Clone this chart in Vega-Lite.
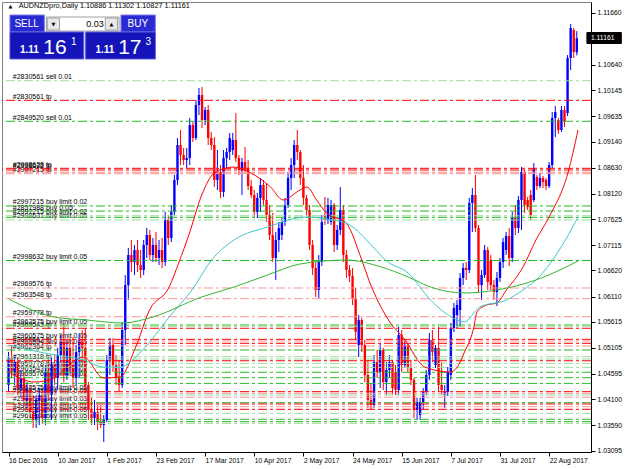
{
"$schema":"https://vega.github.io/schema/vega-lite/v6.json",
"width":589,"height":450,
"autosize":{"type":"none"},
"padding":{"left":2,"top":2,"right":34,"bottom":17},
"background":"#ffffff",
"config":{"font":"Liberation Sans","view":{"stroke":"#808080","strokeWidth":1},"axis":{"labelFont":"Liberation Sans","labelColor":"#000000","tickColor":"#000000","domainColor":"#000000","grid":false}},
"resolve":{"scale":{"color":"independent","fill":"independent","stroke":"independent"}},
"datasets":{
"bars":[
{"i":0,"o":1.04379,"h":1.05025,"l":1.04243,"c":1.04908},
{"i":1,"o":1.04908,"h":1.05162,"l":1.04517,"c":1.04634},
{"i":2,"o":1.04634,"h":1.04966,"l":1.04379,"c":1.04829},
{"i":3,"o":1.04829,"h":1.04908,"l":1.04184,"c":1.04321},
{"i":4,"o":1.04321,"h":1.04673,"l":1.04126,"c":1.04517},
{"i":5,"o":1.04517,"h":1.04634,"l":1.03988,"c":1.04086},
{"i":6,"o":1.04086,"h":1.04438,"l":1.0393,"c":1.04282},
{"i":7,"o":1.04282,"h":1.04379,"l":1.03734,"c":1.03851},
{"i":8,"o":1.03851,"h":1.04184,"l":1.03539,"c":1.03695},
{"i":9,"o":1.03695,"h":1.04184,"l":1.03539,"c":1.04086},
{"i":10,"o":1.04086,"h":1.04321,"l":1.03597,"c":1.04184},
{"i":11,"o":1.04184,"h":1.04282,"l":1.03617,"c":1.03734},
{"i":12,"o":1.03734,"h":1.0477,"l":1.03597,"c":1.04634},
{"i":13,"o":1.04634,"h":1.04868,"l":1.04086,"c":1.04184},
{"i":14,"o":1.04184,"h":1.04908,"l":1.03695,"c":1.0477},
{"i":15,"o":1.0477,"h":1.04966,"l":1.04379,"c":1.04517},
{"i":16,"o":1.04517,"h":1.05104,"l":1.04282,"c":1.04966},
{"i":17,"o":1.04966,"h":1.05357,"l":1.04829,"c":1.05221},
{"i":18,"o":1.05221,"h":1.05592,"l":1.04438,"c":1.04575},
{"i":19,"o":1.04575,"h":1.0526,"l":1.04477,"c":1.05104},
{"i":20,"o":1.05104,"h":1.05299,"l":1.04634,"c":1.0477},
{"i":21,"o":1.0477,"h":1.05318,"l":1.04321,"c":1.04517},
{"i":22,"o":1.04517,"h":1.05162,"l":1.04379,"c":1.05025},
{"i":23,"o":1.05025,"h":1.05396,"l":1.04517,"c":1.0526},
{"i":24,"o":1.0526,"h":1.05455,"l":1.0477,"c":1.05104},
{"i":25,"o":1.05104,"h":1.05495,"l":1.04243,"c":1.04379},
{"i":26,"o":1.04379,"h":1.04438,"l":1.03695,"c":1.0389},
{"i":27,"o":1.0389,"h":1.04126,"l":1.03597,"c":1.03734},
{"i":28,"o":1.03734,"h":1.04086,"l":1.03597,"c":1.03851},
{"i":29,"o":1.03851,"h":1.03988,"l":1.03499,"c":1.03656},
{"i":30,"o":1.03656,"h":1.03988,"l":1.03539,"c":1.03597},
{"i":31,"o":1.03597,"h":1.03792,"l":1.03265,"c":1.03695},
{"i":32,"o":1.03695,"h":1.04966,"l":1.03656,"c":1.04868},
{"i":33,"o":1.04868,"h":1.05299,"l":1.04575,"c":1.05162},
{"i":34,"o":1.05162,"h":1.05299,"l":1.04634,"c":1.0477},
{"i":35,"o":1.0477,"h":1.04966,"l":1.04379,"c":1.04517},
{"i":36,"o":1.04517,"h":1.04868,"l":1.04243,"c":1.04379},
{"i":37,"o":1.04379,"h":1.05612,"l":1.04321,"c":1.05455},
{"i":38,"o":1.05455,"h":1.06531,"l":1.05162,"c":1.06335},
{"i":39,"o":1.06335,"h":1.0706,"l":1.06042,"c":1.06922},
{"i":40,"o":1.06922,"h":1.07216,"l":1.0659,"c":1.06785},
{"i":41,"o":1.06785,"h":1.07118,"l":1.06531,"c":1.0702},
{"i":42,"o":1.0702,"h":1.07216,"l":1.0659,"c":1.06726},
{"i":43,"o":1.06726,"h":1.0702,"l":1.06473,"c":1.06629},
{"i":44,"o":1.06629,"h":1.07216,"l":1.06531,"c":1.07118},
{"i":45,"o":1.07118,"h":1.07451,"l":1.06864,"c":1.07313},
{"i":46,"o":1.07313,"h":1.07411,"l":1.06824,"c":1.06922},
{"i":47,"o":1.06922,"h":1.07255,"l":1.06785,"c":1.07118},
{"i":48,"o":1.07118,"h":1.07372,"l":1.06785,"c":1.06864},
{"i":49,"o":1.06864,"h":1.07216,"l":1.06726,"c":1.0702},
{"i":50,"o":1.0702,"h":1.07255,"l":1.06668,"c":1.06785},
{"i":51,"o":1.06785,"h":1.07763,"l":1.06707,"c":1.07607},
{"i":52,"o":1.07607,"h":1.07704,"l":1.07118,"c":1.07255},
{"i":53,"o":1.07255,"h":1.079,"l":1.07177,"c":1.07763},
{"i":54,"o":1.07763,"h":1.08487,"l":1.07704,"c":1.08389},
{"i":55,"o":1.08389,"h":1.09211,"l":1.08291,"c":1.09074},
{"i":56,"o":1.09074,"h":1.09367,"l":1.08682,"c":1.08878},
{"i":57,"o":1.08878,"h":1.09016,"l":1.08682,"c":1.0878},
{"i":58,"o":1.0878,"h":1.09016,"l":1.08624,"c":1.0882},
{"i":59,"o":1.0882,"h":1.09602,"l":1.08682,"c":1.09465},
{"i":60,"o":1.09465,"h":1.09524,"l":1.09133,"c":1.09211},
{"i":61,"o":1.09211,"h":1.09954,"l":1.09172,"c":1.09856},
{"i":62,"o":1.09856,"h":1.10189,"l":1.0966,"c":1.10052},
{"i":63,"o":1.10052,"h":1.10208,"l":1.09407,"c":1.09563},
{"i":64,"o":1.09563,"h":1.09817,"l":1.09465,"c":1.09758},
{"i":65,"o":1.09758,"h":1.09856,"l":1.09074,"c":1.09211},
{"i":66,"o":1.09211,"h":1.09328,"l":1.08976,"c":1.09074},
{"i":67,"o":1.09074,"h":1.0923,"l":1.08252,"c":1.08389},
{"i":68,"o":1.08389,"h":1.08976,"l":1.08194,"c":1.08546},
{"i":69,"o":1.08546,"h":1.08682,"l":1.08038,"c":1.08155},
{"i":70,"o":1.08155,"h":1.08976,"l":1.08057,"c":1.0882},
{"i":71,"o":1.0882,"h":1.09016,"l":1.08624,"c":1.08937},
{"i":72,"o":1.08937,"h":1.09308,"l":1.0878,"c":1.09211},
{"i":73,"o":1.08976,"h":1.09308,"l":1.08878,"c":1.09172},
{"i":74,"o":1.09172,"h":1.09699,"l":1.08741,"c":1.0882},
{"i":75,"o":1.0882,"h":1.08878,"l":1.08487,"c":1.08585},
{"i":76,"o":1.08585,"h":1.0882,"l":1.08096,"c":1.08741},
{"i":77,"o":1.08741,"h":1.09035,"l":1.08546,"c":1.08624},
{"i":78,"o":1.08624,"h":1.0878,"l":1.08194,"c":1.08272},
{"i":79,"o":1.08272,"h":1.08389,"l":1.08038,"c":1.08096},
{"i":80,"o":1.08096,"h":1.08194,"l":1.07646,"c":1.07763},
{"i":81,"o":1.07763,"h":1.08135,"l":1.07646,"c":1.08038},
{"i":82,"o":1.08038,"h":1.08429,"l":1.07763,"c":1.08291},
{"i":83,"o":1.08291,"h":1.08389,"l":1.079,"c":1.07998},
{"i":84,"o":1.07998,"h":1.0833,"l":1.07568,"c":1.07704},
{"i":85,"o":1.07704,"h":1.079,"l":1.07216,"c":1.07313},
{"i":86,"o":1.07313,"h":1.07743,"l":1.06785,"c":1.06864},
{"i":87,"o":1.06864,"h":1.07372,"l":1.06433,"c":1.07216},
{"i":88,"o":1.07216,"h":1.07568,"l":1.06981,"c":1.07451},
{"i":89,"o":1.07313,"h":1.07646,"l":1.07216,"c":1.07568},
{"i":90,"o":1.07568,"h":1.08038,"l":1.0749,"c":1.079},
{"i":91,"o":1.079,"h":1.08546,"l":1.07842,"c":1.08429},
{"i":92,"o":1.08429,"h":1.0882,"l":1.08194,"c":1.08682},
{"i":93,"o":1.08682,"h":1.09172,"l":1.08429,"c":1.09074},
{"i":94,"o":1.09074,"h":1.09367,"l":1.0878,"c":1.08937},
{"i":95,"o":1.08937,"h":1.08976,"l":1.08291,"c":1.08429},
{"i":96,"o":1.08429,"h":1.08682,"l":1.079,"c":1.08038},
{"i":97,"o":1.08038,"h":1.08096,"l":1.07704,"c":1.07802},
{"i":98,"o":1.07802,"h":1.079,"l":1.0702,"c":1.07118},
{"i":99,"o":1.07118,"h":1.07216,"l":1.06531,"c":1.06668},
{"i":100,"o":1.06668,"h":1.06785,"l":1.06101,"c":1.06238},
{"i":101,"o":1.06238,"h":1.06922,"l":1.06082,"c":1.06785},
{"i":102,"o":1.06785,"h":1.07704,"l":1.06707,"c":1.07568},
{"i":103,"o":1.07704,"h":1.08057,"l":1.07509,"c":1.07607},
{"i":104,"o":1.07607,"h":1.08038,"l":1.07529,"c":1.079},
{"i":105,"o":1.07568,"h":1.07998,"l":1.07509,"c":1.079},
{"i":106,"o":1.079,"h":1.07939,"l":1.06981,"c":1.07118},
{"i":107,"o":1.07118,"h":1.07509,"l":1.0702,"c":1.07411},
{"i":108,"o":1.07411,"h":1.08252,"l":1.07313,"c":1.07802},
{"i":109,"o":1.07802,"h":1.079,"l":1.06785,"c":1.06922},
{"i":110,"o":1.06922,"h":1.0702,"l":1.06473,"c":1.06629},
{"i":111,"o":1.06629,"h":1.06726,"l":1.06394,"c":1.06512},
{"i":112,"o":1.06512,"h":1.06668,"l":1.05944,"c":1.06082},
{"i":113,"o":1.06082,"h":1.06277,"l":1.0526,"c":1.05416},
{"i":114,"o":1.05162,"h":1.05748,"l":1.04927,"c":1.05651},
{"i":115,"o":1.05651,"h":1.0569,"l":1.05025,"c":1.05162},
{"i":116,"o":1.05162,"h":1.0526,"l":1.04438,"c":1.04575},
{"i":117,"o":1.04575,"h":1.04868,"l":1.0393,"c":1.04086},
{"i":118,"o":1.04086,"h":1.04418,"l":1.0389,"c":1.03988},
{"i":119,"o":1.03988,"h":1.04966,"l":1.0393,"c":1.04829},
{"i":120,"o":1.04829,"h":1.05064,"l":1.04517,"c":1.04634},
{"i":121,"o":1.04634,"h":1.05201,"l":1.04321,"c":1.05064},
{"i":122,"o":1.05064,"h":1.05104,"l":1.04282,"c":1.04438},
{"i":123,"o":1.04438,"h":1.04829,"l":1.04184,"c":1.04673},
{"i":124,"o":1.04673,"h":1.04966,"l":1.04517,"c":1.04829},
{"i":125,"o":1.04829,"h":1.04868,"l":1.04184,"c":1.04321},
{"i":126,"o":1.04634,"h":1.0477,"l":1.04184,"c":1.04282},
{"i":127,"o":1.04282,"h":1.05514,"l":1.04184,"c":1.05357},
{"i":128,"o":1.05357,"h":1.05455,"l":1.04634,"c":1.0477},
{"i":129,"o":1.0477,"h":1.0526,"l":1.04712,"c":1.05162},
{"i":130,"o":1.05162,"h":1.05201,"l":1.04634,"c":1.04712},
{"i":131,"o":1.04712,"h":1.04868,"l":1.04379,"c":1.04477},
{"i":132,"o":1.04477,"h":1.04517,"l":1.03734,"c":1.0389},
{"i":133,"o":1.0389,"h":1.04126,"l":1.03695,"c":1.04047},
{"i":134,"o":1.03792,"h":1.04126,"l":1.03695,"c":1.04047},
{"i":135,"o":1.04047,"h":1.04321,"l":1.0389,"c":1.04243},
{"i":136,"o":1.04243,"h":1.04673,"l":1.04184,"c":1.04575},
{"i":137,"o":1.04575,"h":1.05396,"l":1.04477,"c":1.0526},
{"i":138,"o":1.0526,"h":1.05455,"l":1.04829,"c":1.05025},
{"i":139,"o":1.0477,"h":1.05162,"l":1.04712,"c":1.05104},
{"i":140,"o":1.05104,"h":1.05514,"l":1.04243,"c":1.04379},
{"i":141,"o":1.04379,"h":1.04829,"l":1.04184,"c":1.04282},
{"i":142,"o":1.04184,"h":1.04379,"l":1.0393,"c":1.04243},
{"i":143,"o":1.04243,"h":1.04731,"l":1.04165,"c":1.04634},
{"i":144,"o":1.04575,"h":1.05592,"l":1.04477,"c":1.05495},
{"i":145,"o":1.05495,"h":1.05983,"l":1.05416,"c":1.05886},
{"i":146,"o":1.05748,"h":1.06042,"l":1.05495,"c":1.05944},
{"i":147,"o":1.05846,"h":1.0657,"l":1.05514,"c":1.06473},
{"i":148,"o":1.06473,"h":1.06765,"l":1.06335,"c":1.06668},
{"i":149,"o":1.06668,"h":1.06785,"l":1.06433,"c":1.06629},
{"i":150,"o":1.06629,"h":1.08038,"l":1.0657,"c":1.07939},
{"i":151,"o":1.07939,"h":1.08233,"l":1.07372,"c":1.08096},
{"i":152,"o":1.08096,"h":1.08487,"l":1.07372,"c":1.07451},
{"i":153,"o":1.07451,"h":1.07509,"l":1.06199,"c":1.06335},
{"i":154,"o":1.06335,"h":1.06629,"l":1.06042,"c":1.06531},
{"i":155,"o":1.06531,"h":1.07118,"l":1.06473,"c":1.0702},
{"i":156,"o":1.0702,"h":1.07079,"l":1.06238,"c":1.06394},
{"i":157,"o":1.06824,"h":1.06922,"l":1.06238,"c":1.06335},
{"i":158,"o":1.06335,"h":1.06433,"l":1.06042,"c":1.06199},
{"i":159,"o":1.06199,"h":1.0659,"l":1.05925,"c":1.06473},
{"i":160,"o":1.06473,"h":1.06864,"l":1.06394,"c":1.06785},
{"i":161,"o":1.06785,"h":1.07255,"l":1.06668,"c":1.07177},
{"i":162,"o":1.0702,"h":1.07372,"l":1.06922,"c":1.07294},
{"i":163,"o":1.07294,"h":1.07451,"l":1.06707,"c":1.06864},
{"i":164,"o":1.06864,"h":1.07763,"l":1.06785,"c":1.07646},
{"i":165,"o":1.07646,"h":1.079,"l":1.07313,"c":1.07451},
{"i":166,"o":1.07451,"h":1.08077,"l":1.07352,"c":1.07998},
{"i":167,"o":1.07998,"h":1.08643,"l":1.07411,"c":1.08546},
{"i":168,"o":1.08546,"h":1.08585,"l":1.07743,"c":1.079},
{"i":169,"o":1.07998,"h":1.08057,"l":1.07802,"c":1.07861},
{"i":170,"o":1.08096,"h":1.08194,"l":1.07607,"c":1.07704},
{"i":171,"o":1.07998,"h":1.08721,"l":1.07959,"c":1.08624},
{"i":172,"o":1.08448,"h":1.08487,"l":1.08194,"c":1.08272},
{"i":173,"o":1.08272,"h":1.08526,"l":1.08233,"c":1.08429},
{"i":174,"o":1.08429,"h":1.08468,"l":1.08233,"c":1.0835},
{"i":175,"o":1.08389,"h":1.08429,"l":1.08194,"c":1.08272},
{"i":176,"o":1.08272,"h":1.08741,"l":1.08233,"c":1.08682},
{"i":177,"o":1.08682,"h":1.09719,"l":1.08624,"c":1.09602},
{"i":178,"o":1.09602,"h":1.09837,"l":1.0923,"c":1.09719},
{"i":179,"o":1.09563,"h":1.09602,"l":1.09289,"c":1.09367},
{"i":180,"o":1.09367,"h":1.09837,"l":1.09328,"c":1.09758},
{"i":181,"o":1.09758,"h":1.09837,"l":1.09426,"c":1.09524},
{"i":182,"o":1.09699,"h":1.10834,"l":1.09641,"c":1.10776},
{"i":183,"o":1.10776,"h":1.11441,"l":1.10541,"c":1.11363},
{"i":184,"o":1.11323,"h":1.11363,"l":1.10776,"c":1.10893},
{"i":185,"o":1.10886,"h":1.11302,"l":1.10827,"c":1.11161}
],
"ma":[
{"s":"red","i":0,"v":1.04634},{"s":"red","i":8.5,"v":1.04438},{"s":"red","i":14.9,"v":1.04517},{"s":"red","i":19.7,"v":1.0477},{"s":"red","i":24.5,"v":1.04927},{"s":"red","i":30.9,"v":1.04517},{"s":"red","i":36.3,"v":1.04536},{"s":"red","i":41.4,"v":1.05123},{"s":"red","i":45.9,"v":1.05846},{"s":"red","i":52.3,"v":1.06296},{"s":"red","i":55.5,"v":1.06785},{"s":"red","i":58.7,"v":1.07313},{"s":"red","i":62.9,"v":1.08096},{"s":"red","i":67,"v":1.08526},{"s":"red","i":73.4,"v":1.08643},{"s":"red","i":78.9,"v":1.08526},{"s":"red","i":85.3,"v":1.08252},{"s":"red","i":89.4,"v":1.07998},{"s":"red","i":94.9,"v":1.08194},{"s":"red","i":97.1,"v":1.08252},{"s":"red","i":100.3,"v":1.07998},{"s":"red","i":103.5,"v":1.07743},{"s":"red","i":109.9,"v":1.07548},{"s":"red","i":115,"v":1.06824},{"s":"red","i":117.3,"v":1.06433},{"s":"red","i":123.7,"v":1.05651},{"s":"red","i":129.1,"v":1.0526},{"s":"red","i":135.5,"v":1.04731},{"s":"red","i":143.8,"v":1.04634},{"s":"red","i":146.1,"v":1.04731},{"s":"red","i":148.3,"v":1.05005},{"s":"red","i":151.5,"v":1.05514},{"s":"red","i":152.5,"v":1.05807},{"s":"red","i":155.7,"v":1.05944},{"s":"red","i":158.9,"v":1.05983},{"s":"red","i":162.1,"v":1.06238},{"s":"red","i":167.5,"v":1.06687},{"s":"red","i":171.7,"v":1.07216},{"s":"red","i":175.8,"v":1.07646},{"s":"red","i":182.2,"v":1.08546},{"s":"red","i":185.4,"v":1.09367},
{"s":"cyan","i":0,"v":1.05162},{"s":"cyan","i":11.7,"v":1.05005},{"s":"cyan","i":24.5,"v":1.04868},{"s":"cyan","i":30.9,"v":1.04731},{"s":"cyan","i":36.3,"v":1.04731},{"s":"cyan","i":43.7,"v":1.05064},{"s":"cyan","i":52.3,"v":1.05709},{"s":"cyan","i":59.7,"v":1.06238},{"s":"cyan","i":66.1,"v":1.06824},{"s":"cyan","i":73.4,"v":1.07216},{"s":"cyan","i":84.3,"v":1.0747},{"s":"cyan","i":97.1,"v":1.07665},{"s":"cyan","i":105.4,"v":1.07607},{"s":"cyan","i":109.9,"v":1.07548},{"s":"cyan","i":120.5,"v":1.06961},{"s":"cyan","i":122.7,"v":1.06824},{"s":"cyan","i":130.1,"v":1.0657},{"s":"cyan","i":137.4,"v":1.06042},{"s":"cyan","i":146.1,"v":1.05651},{"s":"cyan","i":148.3,"v":1.05612},{"s":"cyan","i":153.4,"v":1.05905},{"s":"cyan","i":162.1,"v":1.06042},{"s":"cyan","i":167.5,"v":1.06238},{"s":"cyan","i":171.7,"v":1.06433},{"s":"cyan","i":181.3,"v":1.07216},{"s":"cyan","i":185.4,"v":1.07665},
{"s":"green","i":0,"v":1.06062},{"s":"green","i":14.9,"v":1.05709},{"s":"green","i":25.4,"v":1.05651},{"s":"green","i":37.3,"v":1.05592},{"s":"green","i":46.9,"v":1.05709},{"s":"green","i":62.9,"v":1.06101},{"s":"green","i":73.4,"v":1.06296},{"s":"green","i":84.3,"v":1.06531},{"s":"green","i":94.9,"v":1.06746},{"s":"green","i":109.9,"v":1.06824},{"s":"green","i":121.4,"v":1.06687},{"s":"green","i":130.1,"v":1.06492},{"s":"green","i":137.4,"v":1.06296},{"s":"green","i":148.3,"v":1.06179},{"s":"green","i":158.9,"v":1.06238},{"s":"green","i":171.7,"v":1.06433},{"s":"green","i":185.4,"v":1.06804}
],
"orders":[
{"p":1.10331,"k":"lg"},{"p":1.09948,"k":"r"},{"p":1.09538,"k":"g"},{"p":1.08618,"k":"r"},{"p":1.08585,"k":"r"},{"p":1.0854,"k":"lr"},{"p":1.08513,"k":"lr"},{"p":1.07881,"k":"g"},{"p":1.07782,"k":"g"},{"p":1.0769,"k":"lg"},{"p":1.07659,"k":"g"},{"p":1.07607,"k":"lg"},{"p":1.06814,"k":"g"},{"p":1.06277,"k":"lr"},{"p":1.06068,"k":"lr"},{"p":1.05715,"k":"lr"},{"p":1.05553,"k":"g"},{"p":1.05528,"k":"lg"},{"p":1.05489,"k":"r"},{"p":1.05273,"k":"r"},{"p":1.0524,"k":"lr"},{"p":1.05195,"k":"r"},{"p":1.05143,"k":"lr"},{"p":1.05064,"k":"g"},{"p":1.04933,"k":"lg"},{"p":1.04888,"k":"lg"},{"p":1.04854,"k":"r"},{"p":1.04803,"k":"lg"},{"p":1.04725,"k":"lg"},{"p":1.04628,"k":"g"},{"p":1.04522,"k":"g"},{"p":1.04412,"k":"g"},{"p":1.04249,"k":"r"},{"p":1.04217,"k":"lr"},{"p":1.04184,"k":"lg"},{"p":1.04139,"k":"lr"},{"p":1.04033,"k":"g"},{"p":1.04008,"k":"r"},{"p":1.03955,"k":"lr"},{"p":1.03904,"k":"r"},{"p":1.03825,"k":"lg"},{"p":1.03709,"k":"g"},{"p":1.03662,"k":"g"},{"p":1.0363,"k":"lg"}
],
"labels":[
{"p":1.10331,"t":"#2830561 sell 0.01"},{"p":1.09948,"t":"#2830561 tp"},{"p":1.09538,"t":"#2849520 sell 0.01"},{"p":1.08618,"t":"#2998628 tp"},{"p":1.08585,"t":"#2998632 tp"},{"p":1.08513,"t":"#2997215 tp"},{"p":1.07881,"t":"#2997215 buy limit 0.02"},{"p":1.07782,"t":"#2857988 buy 0.05"},{"p":1.0769,"t":"#2997215 buy limit 0.02"},{"p":1.07607,"t":"#2998631 buy limit 0.05"},{"p":1.06814,"t":"#2998632 buy limit 0.05"},{"p":1.06277,"t":"#2969576 tp"},{"p":1.06068,"t":"#2963548 tp"},{"p":1.05715,"t":"#2959778 tp"},{"p":1.05553,"t":"#2962575 buy limit 0.05"},{"p":1.05489,"t":"#2963543 tp"},{"p":1.05273,"t":"#2960575 buy limit 0.05"},{"p":1.05195,"t":"#2965563 tp"},{"p":1.05143,"t":"#2965554 buy limit 0.05"},{"p":1.05064,"t":"#2962364 tp"},{"p":1.04854,"t":"#2961318 tp"},{"p":1.04725,"t":"#2959778 buy limit 0.05"},{"p":1.04628,"t":"#2963543 buy limit 0.02"},{"p":1.04522,"t":"#2969576 buy limit 0.02"},{"p":1.04249,"t":"#2962575 buy limit 0.05"},{"p":1.04184,"t":"#2963548 buy limit 0.05"},{"p":1.04033,"t":"#2965563 buy limit 0.03"},{"p":1.03904,"t":"#2960575 buy limit 0.01"},{"p":1.03825,"t":"#2962364 buy limit 0.05"},{"p":1.03709,"t":"#2961318 buy limit 0.05"}
],
"panel":[
{"r":"btn","x1":0.46,"x2":11.66,"y1":1.11617,"y2":1.11284},
{"r":"box","x1":12.3,"x2":36.0,"y1":1.11577,"y2":1.11303},
{"r":"arr","x1":12.6,"x2":16.6,"y1":1.11558,"y2":1.11323},
{"r":"arr","x1":31.5,"x2":35.5,"y1":1.11558,"y2":1.11323},
{"r":"btn","x1":36.6,"x2":47.8,"y1":1.11617,"y2":1.11284},
{"r":"big","x1":0.46,"x2":24.5,"y1":1.11284,"y2":1.10756},
{"r":"big","x1":25.1,"x2":47.8,"y1":1.11284,"y2":1.10756},
{"r":"cur","x1":188.3,"x2":199.5,"y1":1.11274,"y2":1.11059}
],
"ptext":[
{"t":"SELL","x":5.9,"y":1.11441,"g":"btn"},
{"t":"BUY","x":42.1,"y":1.11441,"g":"btn"},
{"t":"0.03","x":31.0,"y":1.11441,"g":"lot"},
{"t":"▼","x":14.6,"y":1.11441,"g":"arr"},
{"t":"▲","x":33.5,"y":1.11441,"g":"arr"},
{"t":"▲","x":0.6,"y":1.11783,"g":"arr"},
{"t":"AUDNZDpro,Daily 1.10886 1.11302 1.10827 1.11161","x":3.3,"y":1.11783,"g":"title"},
{"t":"1.11","x":3.7,"y":1.10873,"g":"pre"},
{"t":"1.11","x":28.3,"y":1.10873,"g":"pre"},
{"t":"16","x":11.3,"y":1.10848,"g":"big"},
{"t":"17","x":35.7,"y":1.10848,"g":"big"},
{"t":"1","x":20.3,"y":1.1103,"g":"sup"},
{"t":"3","x":44.6,"y":1.1103,"g":"sup"},
{"t":"1.11161","x":189.6,"y":1.11161,"g":"cur"}
]
},
"layer":[
{"data":{"name":"labels"},
 "mark":{"type":"text","align":"left","baseline":"bottom","dy":-0.5,"fontSize":7,"font":"Liberation Sans","color":"#000000"},
 "encoding":{
  "x":{"datum":1.4,"type":"quantitative","scale":{"domain":[-0.5,188],"nice":false,"zero":false},"axis":{"title":null,"values":[0,16,32,48,64,80,96,112,128,144,160,176],"labelExpr":"['16 Dec 2016','10 Jan 2017','1 Feb 2017','23 Feb 2017','17 Mar 2017','10 Apr 2017','2 May 2017','24 May 2017','15 Jun 2017','7 Jul 2017','31 Jul 2017','22 Aug 2017'][round(datum.value/16)]","labelAlign":"left","labelFontSize":6.8,"tickSize":4,"labelPadding":1,"labelFlush":false,"labelOverlap":false,"labelBound":false,"domain":true,"grid":false}},
  "y":{"field":"p","type":"quantitative","scale":{"domain":[1.03069,1.11871],"nice":false,"zero":false},"axis":{"title":null,"orient":"right","values":[1.1166,1.1064,1.10145,1.09635,1.0914,1.0863,1.0812,1.07625,1.07115,1.0662,1.0611,1.05615,1.05105,1.04595,1.041,1.0359,1.03095],"format":".5f","labelFontSize":6.8,"tickSize":4,"labelPadding":2,"labelOverlap":false,"labelFlush":false,"labelBound":false,"domain":true,"grid":false}},
  "text":{"field":"t"}}},
{"data":{"name":"bars"},
 "mark":{"type":"rule","strokeWidth":1},
 "encoding":{
  "x":{"field":"i","type":"quantitative","scale":{"domain":[-0.5,188],"nice":false,"zero":false},"axis":{"title":null,"values":[0,16,32,48,64,80,96,112,128,144,160,176],"labelExpr":"['16 Dec 2016','10 Jan 2017','1 Feb 2017','23 Feb 2017','17 Mar 2017','10 Apr 2017','2 May 2017','24 May 2017','15 Jun 2017','7 Jul 2017','31 Jul 2017','22 Aug 2017'][round(datum.value/16)]","labelAlign":"left","labelFontSize":6.8,"tickSize":4,"labelPadding":1,"labelFlush":false,"labelOverlap":false,"labelBound":false,"domain":true,"grid":false}},
  "y":{"field":"l","type":"quantitative","scale":{"domain":[1.03069,1.11871],"nice":false,"zero":false},"axis":{"title":null,"orient":"right","values":[1.1166,1.1064,1.10145,1.09635,1.0914,1.0863,1.0812,1.07625,1.07115,1.0662,1.0611,1.05615,1.05105,1.04595,1.041,1.0359,1.03095],"format":".5f","labelFontSize":6.8,"tickSize":4,"labelPadding":2,"labelOverlap":false,"labelFlush":false,"labelBound":false,"domain":true,"grid":false}},
  "y2":{"field":"h"},
  "color":{"condition":{"test":"datum.c > datum.o","value":"#0000ff"},"value":"#ff0000"}}},
{"data":{"name":"bars"},
 "mark":{"type":"bar","width":2.4},
 "encoding":{
  "x":{"field":"i","type":"quantitative","scale":{"domain":[-0.5,188],"nice":false,"zero":false},"axis":{"title":null,"values":[0,16,32,48,64,80,96,112,128,144,160,176],"labelExpr":"['16 Dec 2016','10 Jan 2017','1 Feb 2017','23 Feb 2017','17 Mar 2017','10 Apr 2017','2 May 2017','24 May 2017','15 Jun 2017','7 Jul 2017','31 Jul 2017','22 Aug 2017'][round(datum.value/16)]","labelAlign":"left","labelFontSize":6.8,"tickSize":4,"labelPadding":1,"labelFlush":false,"labelOverlap":false,"labelBound":false,"domain":true,"grid":false}},
  "y":{"field":"o","type":"quantitative","scale":{"domain":[1.03069,1.11871],"nice":false,"zero":false},"axis":{"title":null,"orient":"right","values":[1.1166,1.1064,1.10145,1.09635,1.0914,1.0863,1.0812,1.07625,1.07115,1.0662,1.0611,1.05615,1.05105,1.04595,1.041,1.0359,1.03095],"format":".5f","labelFontSize":6.8,"tickSize":4,"labelPadding":2,"labelOverlap":false,"labelFlush":false,"labelBound":false,"domain":true,"grid":false}},
  "y2":{"field":"c"},
  "color":{"condition":{"test":"datum.c > datum.o","value":"#0000ff"},"value":"#ff0000"}}},
{"data":{"name":"orders"},
 "mark":{"type":"rule","strokeWidth":1,"strokeDash":[9,3,3,3]},
 "encoding":{
  "y":{"field":"p","type":"quantitative","scale":{"domain":[1.03069,1.11871],"nice":false,"zero":false},"axis":{"title":null,"orient":"right","values":[1.1166,1.1064,1.10145,1.09635,1.0914,1.0863,1.0812,1.07625,1.07115,1.0662,1.0611,1.05615,1.05105,1.04595,1.041,1.0359,1.03095],"format":".5f","labelFontSize":6.8,"tickSize":4,"labelPadding":2,"labelOverlap":false,"labelFlush":false,"labelBound":false,"domain":true,"grid":false}},
  "color":{"field":"k","type":"nominal","scale":{"domain":["r","lr","g","lg"],"range":["#ff0000","#ff9494","#22bb22","#9ade9a"]},"legend":null}}},
{"data":{"name":"ma"},
 "mark":{"type":"line","strokeWidth":1,"interpolate":"monotone"},
 "encoding":{
  "x":{"field":"i","type":"quantitative","scale":{"domain":[-0.5,188],"nice":false,"zero":false},"axis":{"title":null,"values":[0,16,32,48,64,80,96,112,128,144,160,176],"labelExpr":"['16 Dec 2016','10 Jan 2017','1 Feb 2017','23 Feb 2017','17 Mar 2017','10 Apr 2017','2 May 2017','24 May 2017','15 Jun 2017','7 Jul 2017','31 Jul 2017','22 Aug 2017'][round(datum.value/16)]","labelAlign":"left","labelFontSize":6.8,"tickSize":4,"labelPadding":1,"labelFlush":false,"labelOverlap":false,"labelBound":false,"domain":true,"grid":false}},
  "y":{"field":"v","type":"quantitative","scale":{"domain":[1.03069,1.11871],"nice":false,"zero":false},"axis":{"title":null,"orient":"right","values":[1.1166,1.1064,1.10145,1.09635,1.0914,1.0863,1.0812,1.07625,1.07115,1.0662,1.0611,1.05615,1.05105,1.04595,1.041,1.0359,1.03095],"format":".5f","labelFontSize":6.8,"tickSize":4,"labelPadding":2,"labelOverlap":false,"labelFlush":false,"labelBound":false,"domain":true,"grid":false}},
  "color":{"field":"s","type":"nominal","scale":{"domain":["red","cyan","green"],"range":["#ff0000","#3cc8c8","#33b833"]},"legend":null}}},
{"data":{"name":"panel"},
 "mark":{"type":"rect","strokeWidth":1},
 "encoding":{
  "x":{"field":"x1","type":"quantitative","scale":{"domain":[-0.5,188],"nice":false,"zero":false},"axis":{"title":null,"values":[0,16,32,48,64,80,96,112,128,144,160,176],"labelExpr":"['16 Dec 2016','10 Jan 2017','1 Feb 2017','23 Feb 2017','17 Mar 2017','10 Apr 2017','2 May 2017','24 May 2017','15 Jun 2017','7 Jul 2017','31 Jul 2017','22 Aug 2017'][round(datum.value/16)]","labelAlign":"left","labelFontSize":6.8,"tickSize":4,"labelPadding":1,"labelFlush":false,"labelOverlap":false,"labelBound":false,"domain":true,"grid":false}},
  "x2":{"field":"x2"},
  "y":{"field":"y1","type":"quantitative","scale":{"domain":[1.03069,1.11871],"nice":false,"zero":false},"axis":{"title":null,"orient":"right","values":[1.1166,1.1064,1.10145,1.09635,1.0914,1.0863,1.0812,1.07625,1.07115,1.0662,1.0611,1.05615,1.05105,1.04595,1.041,1.0359,1.03095],"format":".5f","labelFontSize":6.8,"tickSize":4,"labelPadding":2,"labelOverlap":false,"labelFlush":false,"labelBound":false,"domain":true,"grid":false}},
  "y2":{"field":"y2"},
  "fill":{"field":"r","type":"nominal","scale":{"domain":["btn","big","box","arr","cur"],"range":["#2a2ad2","#1414b8","#ffffff","#e8e8e8","#000000"]},"legend":null},
  "stroke":{"field":"r","type":"nominal","scale":{"domain":["btn","big","box","arr","cur"],"range":["#8080e8","#5a5ad8","#a0a0a0","#a0a0a0","#000000"]},"legend":null}}},
{"data":{"name":"ptext"},"transform":[{"filter":"datum.g == 'btn'"}],
 "mark":{"type":"text","align":"center","baseline":"middle","fontSize":10,"color":"#ffffff","font":"Liberation Sans"},
 "encoding":{"text":{"field":"t"},
  "x":{"field":"x","type":"quantitative","scale":{"domain":[-0.5,188],"nice":false,"zero":false},"axis":{"title":null,"values":[0,16,32,48,64,80,96,112,128,144,160,176],"labelExpr":"['16 Dec 2016','10 Jan 2017','1 Feb 2017','23 Feb 2017','17 Mar 2017','10 Apr 2017','2 May 2017','24 May 2017','15 Jun 2017','7 Jul 2017','31 Jul 2017','22 Aug 2017'][round(datum.value/16)]","labelAlign":"left","labelFontSize":6.8,"tickSize":4,"labelPadding":1,"labelFlush":false,"labelOverlap":false,"labelBound":false,"domain":true,"grid":false}},
  "y":{"field":"y","type":"quantitative","scale":{"domain":[1.03069,1.11871],"nice":false,"zero":false},"axis":{"title":null,"orient":"right","values":[1.1166,1.1064,1.10145,1.09635,1.0914,1.0863,1.0812,1.07625,1.07115,1.0662,1.0611,1.05615,1.05105,1.04595,1.041,1.0359,1.03095],"format":".5f","labelFontSize":6.8,"tickSize":4,"labelPadding":2,"labelOverlap":false,"labelFlush":false,"labelBound":false,"domain":true,"grid":false}}}},
{"data":{"name":"ptext"},"transform":[{"filter":"datum.g == 'lot'"}],
 "mark":{"type":"text","align":"right","baseline":"middle","fontSize":9,"color":"#000000","font":"Liberation Sans"},
 "encoding":{"text":{"field":"t"},
  "x":{"field":"x","type":"quantitative","scale":{"domain":[-0.5,188],"nice":false,"zero":false},"axis":{"title":null,"values":[0,16,32,48,64,80,96,112,128,144,160,176],"labelExpr":"['16 Dec 2016','10 Jan 2017','1 Feb 2017','23 Feb 2017','17 Mar 2017','10 Apr 2017','2 May 2017','24 May 2017','15 Jun 2017','7 Jul 2017','31 Jul 2017','22 Aug 2017'][round(datum.value/16)]","labelAlign":"left","labelFontSize":6.8,"tickSize":4,"labelPadding":1,"labelFlush":false,"labelOverlap":false,"labelBound":false,"domain":true,"grid":false}},
  "y":{"field":"y","type":"quantitative","scale":{"domain":[1.03069,1.11871],"nice":false,"zero":false},"axis":{"title":null,"orient":"right","values":[1.1166,1.1064,1.10145,1.09635,1.0914,1.0863,1.0812,1.07625,1.07115,1.0662,1.0611,1.05615,1.05105,1.04595,1.041,1.0359,1.03095],"format":".5f","labelFontSize":6.8,"tickSize":4,"labelPadding":2,"labelOverlap":false,"labelFlush":false,"labelBound":false,"domain":true,"grid":false}}}},
{"data":{"name":"ptext"},"transform":[{"filter":"datum.g == 'arr'"}],
 "mark":{"type":"text","align":"center","baseline":"middle","fontSize":5,"color":"#000000","font":"DejaVu Sans"},
 "encoding":{"text":{"field":"t"},
  "x":{"field":"x","type":"quantitative","scale":{"domain":[-0.5,188],"nice":false,"zero":false},"axis":{"title":null,"values":[0,16,32,48,64,80,96,112,128,144,160,176],"labelExpr":"['16 Dec 2016','10 Jan 2017','1 Feb 2017','23 Feb 2017','17 Mar 2017','10 Apr 2017','2 May 2017','24 May 2017','15 Jun 2017','7 Jul 2017','31 Jul 2017','22 Aug 2017'][round(datum.value/16)]","labelAlign":"left","labelFontSize":6.8,"tickSize":4,"labelPadding":1,"labelFlush":false,"labelOverlap":false,"labelBound":false,"domain":true,"grid":false}},
  "y":{"field":"y","type":"quantitative","scale":{"domain":[1.03069,1.11871],"nice":false,"zero":false},"axis":{"title":null,"orient":"right","values":[1.1166,1.1064,1.10145,1.09635,1.0914,1.0863,1.0812,1.07625,1.07115,1.0662,1.0611,1.05615,1.05105,1.04595,1.041,1.0359,1.03095],"format":".5f","labelFontSize":6.8,"tickSize":4,"labelPadding":2,"labelOverlap":false,"labelFlush":false,"labelBound":false,"domain":true,"grid":false}}}},
{"data":{"name":"ptext"},"transform":[{"filter":"datum.g == 'title'"}],
 "mark":{"type":"text","align":"left","baseline":"middle","fontSize":7.3,"color":"#000000","font":"Liberation Sans"},
 "encoding":{"text":{"field":"t"},
  "x":{"field":"x","type":"quantitative","scale":{"domain":[-0.5,188],"nice":false,"zero":false},"axis":{"title":null,"values":[0,16,32,48,64,80,96,112,128,144,160,176],"labelExpr":"['16 Dec 2016','10 Jan 2017','1 Feb 2017','23 Feb 2017','17 Mar 2017','10 Apr 2017','2 May 2017','24 May 2017','15 Jun 2017','7 Jul 2017','31 Jul 2017','22 Aug 2017'][round(datum.value/16)]","labelAlign":"left","labelFontSize":6.8,"tickSize":4,"labelPadding":1,"labelFlush":false,"labelOverlap":false,"labelBound":false,"domain":true,"grid":false}},
  "y":{"field":"y","type":"quantitative","scale":{"domain":[1.03069,1.11871],"nice":false,"zero":false},"axis":{"title":null,"orient":"right","values":[1.1166,1.1064,1.10145,1.09635,1.0914,1.0863,1.0812,1.07625,1.07115,1.0662,1.0611,1.05615,1.05105,1.04595,1.041,1.0359,1.03095],"format":".5f","labelFontSize":6.8,"tickSize":4,"labelPadding":2,"labelOverlap":false,"labelFlush":false,"labelBound":false,"domain":true,"grid":false}}}},
{"data":{"name":"ptext"},"transform":[{"filter":"datum.g == 'pre'"}],
 "mark":{"type":"text","align":"left","baseline":"alphabetic","fontSize":10,"fontWeight":"bold","color":"#ffffff","font":"Liberation Sans"},
 "encoding":{"text":{"field":"t"},
  "x":{"field":"x","type":"quantitative","scale":{"domain":[-0.5,188],"nice":false,"zero":false},"axis":{"title":null,"values":[0,16,32,48,64,80,96,112,128,144,160,176],"labelExpr":"['16 Dec 2016','10 Jan 2017','1 Feb 2017','23 Feb 2017','17 Mar 2017','10 Apr 2017','2 May 2017','24 May 2017','15 Jun 2017','7 Jul 2017','31 Jul 2017','22 Aug 2017'][round(datum.value/16)]","labelAlign":"left","labelFontSize":6.8,"tickSize":4,"labelPadding":1,"labelFlush":false,"labelOverlap":false,"labelBound":false,"domain":true,"grid":false}},
  "y":{"field":"y","type":"quantitative","scale":{"domain":[1.03069,1.11871],"nice":false,"zero":false},"axis":{"title":null,"orient":"right","values":[1.1166,1.1064,1.10145,1.09635,1.0914,1.0863,1.0812,1.07625,1.07115,1.0662,1.0611,1.05615,1.05105,1.04595,1.041,1.0359,1.03095],"format":".5f","labelFontSize":6.8,"tickSize":4,"labelPadding":2,"labelOverlap":false,"labelFlush":false,"labelBound":false,"domain":true,"grid":false}}}},
{"data":{"name":"ptext"},"transform":[{"filter":"datum.g == 'big'"}],
 "mark":{"type":"text","align":"left","baseline":"alphabetic","fontSize":21,"color":"#ffffff","font":"Liberation Sans"},
 "encoding":{"text":{"field":"t"},
  "x":{"field":"x","type":"quantitative","scale":{"domain":[-0.5,188],"nice":false,"zero":false},"axis":{"title":null,"values":[0,16,32,48,64,80,96,112,128,144,160,176],"labelExpr":"['16 Dec 2016','10 Jan 2017','1 Feb 2017','23 Feb 2017','17 Mar 2017','10 Apr 2017','2 May 2017','24 May 2017','15 Jun 2017','7 Jul 2017','31 Jul 2017','22 Aug 2017'][round(datum.value/16)]","labelAlign":"left","labelFontSize":6.8,"tickSize":4,"labelPadding":1,"labelFlush":false,"labelOverlap":false,"labelBound":false,"domain":true,"grid":false}},
  "y":{"field":"y","type":"quantitative","scale":{"domain":[1.03069,1.11871],"nice":false,"zero":false},"axis":{"title":null,"orient":"right","values":[1.1166,1.1064,1.10145,1.09635,1.0914,1.0863,1.0812,1.07625,1.07115,1.0662,1.0611,1.05615,1.05105,1.04595,1.041,1.0359,1.03095],"format":".5f","labelFontSize":6.8,"tickSize":4,"labelPadding":2,"labelOverlap":false,"labelFlush":false,"labelBound":false,"domain":true,"grid":false}}}},
{"data":{"name":"ptext"},"transform":[{"filter":"datum.g == 'sup'"}],
 "mark":{"type":"text","align":"left","baseline":"alphabetic","fontSize":10,"color":"#ffffff","font":"Liberation Sans"},
 "encoding":{"text":{"field":"t"},
  "x":{"field":"x","type":"quantitative","scale":{"domain":[-0.5,188],"nice":false,"zero":false},"axis":{"title":null,"values":[0,16,32,48,64,80,96,112,128,144,160,176],"labelExpr":"['16 Dec 2016','10 Jan 2017','1 Feb 2017','23 Feb 2017','17 Mar 2017','10 Apr 2017','2 May 2017','24 May 2017','15 Jun 2017','7 Jul 2017','31 Jul 2017','22 Aug 2017'][round(datum.value/16)]","labelAlign":"left","labelFontSize":6.8,"tickSize":4,"labelPadding":1,"labelFlush":false,"labelOverlap":false,"labelBound":false,"domain":true,"grid":false}},
  "y":{"field":"y","type":"quantitative","scale":{"domain":[1.03069,1.11871],"nice":false,"zero":false},"axis":{"title":null,"orient":"right","values":[1.1166,1.1064,1.10145,1.09635,1.0914,1.0863,1.0812,1.07625,1.07115,1.0662,1.0611,1.05615,1.05105,1.04595,1.041,1.0359,1.03095],"format":".5f","labelFontSize":6.8,"tickSize":4,"labelPadding":2,"labelOverlap":false,"labelFlush":false,"labelBound":false,"domain":true,"grid":false}}}},
{"data":{"name":"ptext"},"transform":[{"filter":"datum.g == 'cur'"}],
 "mark":{"type":"text","align":"left","baseline":"middle","fontSize":6.8,"color":"#ffffff","font":"Liberation Sans"},
 "encoding":{"text":{"field":"t"},
  "x":{"field":"x","type":"quantitative","scale":{"domain":[-0.5,188],"nice":false,"zero":false},"axis":{"title":null,"values":[0,16,32,48,64,80,96,112,128,144,160,176],"labelExpr":"['16 Dec 2016','10 Jan 2017','1 Feb 2017','23 Feb 2017','17 Mar 2017','10 Apr 2017','2 May 2017','24 May 2017','15 Jun 2017','7 Jul 2017','31 Jul 2017','22 Aug 2017'][round(datum.value/16)]","labelAlign":"left","labelFontSize":6.8,"tickSize":4,"labelPadding":1,"labelFlush":false,"labelOverlap":false,"labelBound":false,"domain":true,"grid":false}},
  "y":{"field":"y","type":"quantitative","scale":{"domain":[1.03069,1.11871],"nice":false,"zero":false},"axis":{"title":null,"orient":"right","values":[1.1166,1.1064,1.10145,1.09635,1.0914,1.0863,1.0812,1.07625,1.07115,1.0662,1.0611,1.05615,1.05105,1.04595,1.041,1.0359,1.03095],"format":".5f","labelFontSize":6.8,"tickSize":4,"labelPadding":2,"labelOverlap":false,"labelFlush":false,"labelBound":false,"domain":true,"grid":false}}}}
]
}
